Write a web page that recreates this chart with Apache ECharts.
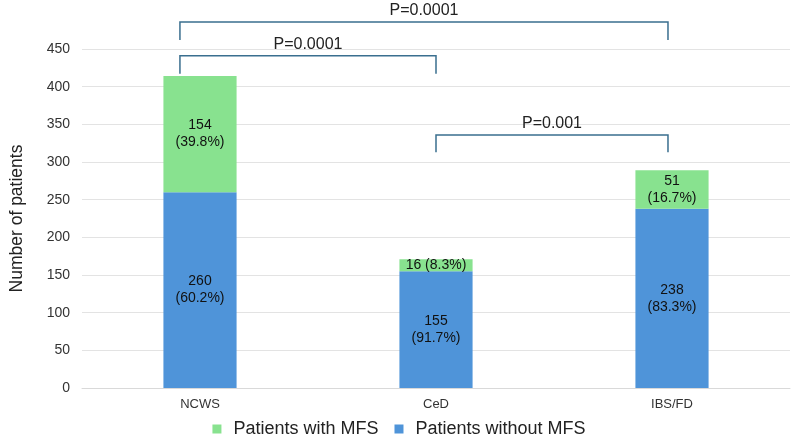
<!DOCTYPE html>
<html>
<head>
<meta charset="utf-8">
<script src="https://cdn.jsdelivr.net/npm/echarts@6/dist/echarts.min.js"></script>
<style>
  html, body { margin: 0; padding: 0; background: #fff; }
  #chart { width: 798px; height: 445px; }
</style>
</head>
<body>
<div id="chart"></div>
<script>
// categories and counts
var categories = ['NCWS', 'CeD', 'IBS/FD'];
var withoutMFS = [260, 155, 238];
var withMFS = [154, 16, 51];
var withoutLabels = ['260\n(60.2%)', '155\n(91.7%)', '238\n(83.3%)'];
var withLabels = ['154\n(39.8%)', '16 (8.3%)', '51\n(16.7%)'];

// significance brackets: [x start, x end, y of bar, y of leg ends, text]
var brackets = [
  [-0.085, 1.983, 486, 462, 'P=0.0001'],
  [-0.085, 1.0, 441, 417, 'P=0.0001'],
  [1.0, 1.983, 336, 313, 'P=0.001']
];

var chart = echarts.init(document.getElementById('chart'));

var option = {
  animation: false,
  grid: { left: 82, right: 8, top: 49, bottom: 57 },
  legend: {
    bottom: 2,
    left: 'center',
    itemWidth: 9,
    itemHeight: 9,
    itemGap: 16,
    icon: 'rect',
    textStyle: { fontSize: 18, color: '#222', fontFamily: 'Liberation Sans, Arial', padding: [0, 0, 0, 7] },
    data: ['Patients with MFS', 'Patients without MFS']
  },
  xAxis: [
    {
      type: 'category',
      data: categories,
      axisLine: { lineStyle: { color: '#d9d9d9' } },
      axisTick: { show: false },
      axisLabel: { fontSize: 13, color: '#333', margin: 10, fontFamily: 'Liberation Sans, Arial' }
    },
    {
      type: 'value',
      min: -0.5,
      max: 2.5,
      show: false
    }
  ],
  yAxis: {
    type: 'value',
    min: 0,
    max: 450,
    interval: 50,
    name: 'Number of patients',
    nameLocation: 'middle',
    nameGap: 56,
    nameTextStyle: { fontSize: 17.5, color: '#222', fontFamily: 'Liberation Sans, Arial' },
    axisLine: { show: false },
    axisTick: { show: false },
    axisLabel: { fontSize: 14, color: '#333', margin: 12, fontFamily: 'Liberation Sans, Arial' },
    splitLine: { lineStyle: { color: '#e3e3e3' } }
  },
  series: [
    {
      name: 'Patients without MFS',
      type: 'bar',
      stack: 'total',
      barWidth: '31%',
      data: withoutMFS,
      itemStyle: { color: '#4f94d9' },
      label: {
        show: true,
        position: 'inside',
        fontSize: 14,
        color: '#111',
        lineHeight: 17,
        fontFamily: 'Liberation Sans, Arial',
        formatter: function (p) { return withoutLabels[p.dataIndex]; }
      }
    },
    {
      name: 'Patients with MFS',
      type: 'bar',
      stack: 'total',
      data: withMFS,
      itemStyle: { color: '#88e28f' },
      label: {
        show: true,
        position: 'inside',
        fontSize: 14,
        color: '#111',
        lineHeight: 17,
        fontFamily: 'Liberation Sans, Arial',
        formatter: function (p) { return withLabels[p.dataIndex]; }
      }
    },
    {
      type: 'custom',
      xAxisIndex: 1,
      yAxisIndex: 0,
      clip: false,
      silent: true,
      data: brackets,
      renderItem: function (params, api) {
        var a = api.coord([api.value(0), api.value(2)]);
        var b = api.coord([api.value(1), api.value(2)]);
        var aEnd = api.coord([api.value(0), api.value(3)]);
        var bEnd = api.coord([api.value(1), api.value(3)]);
        var txt = brackets[params.dataIndex][4];
        return {
          type: 'group',
          children: [
            {
              type: 'polyline',
              shape: { points: [aEnd, a, b, bEnd] },
              style: { stroke: '#3a6f8f', lineWidth: 1.5, fill: null }
            },
            {
              type: 'text',
              x: (a[0] + b[0]) / 2,
              y: a[1] - 11,
              style: {
                text: txt,
                fontSize: 16,
                fill: '#222',
                fontFamily: 'Liberation Sans, Arial',
                align: 'center',
                verticalAlign: 'middle'
              }
            }
          ]
        };
      }
    }
  ]
};

chart.setOption(option);
</script>
</body>
</html>
